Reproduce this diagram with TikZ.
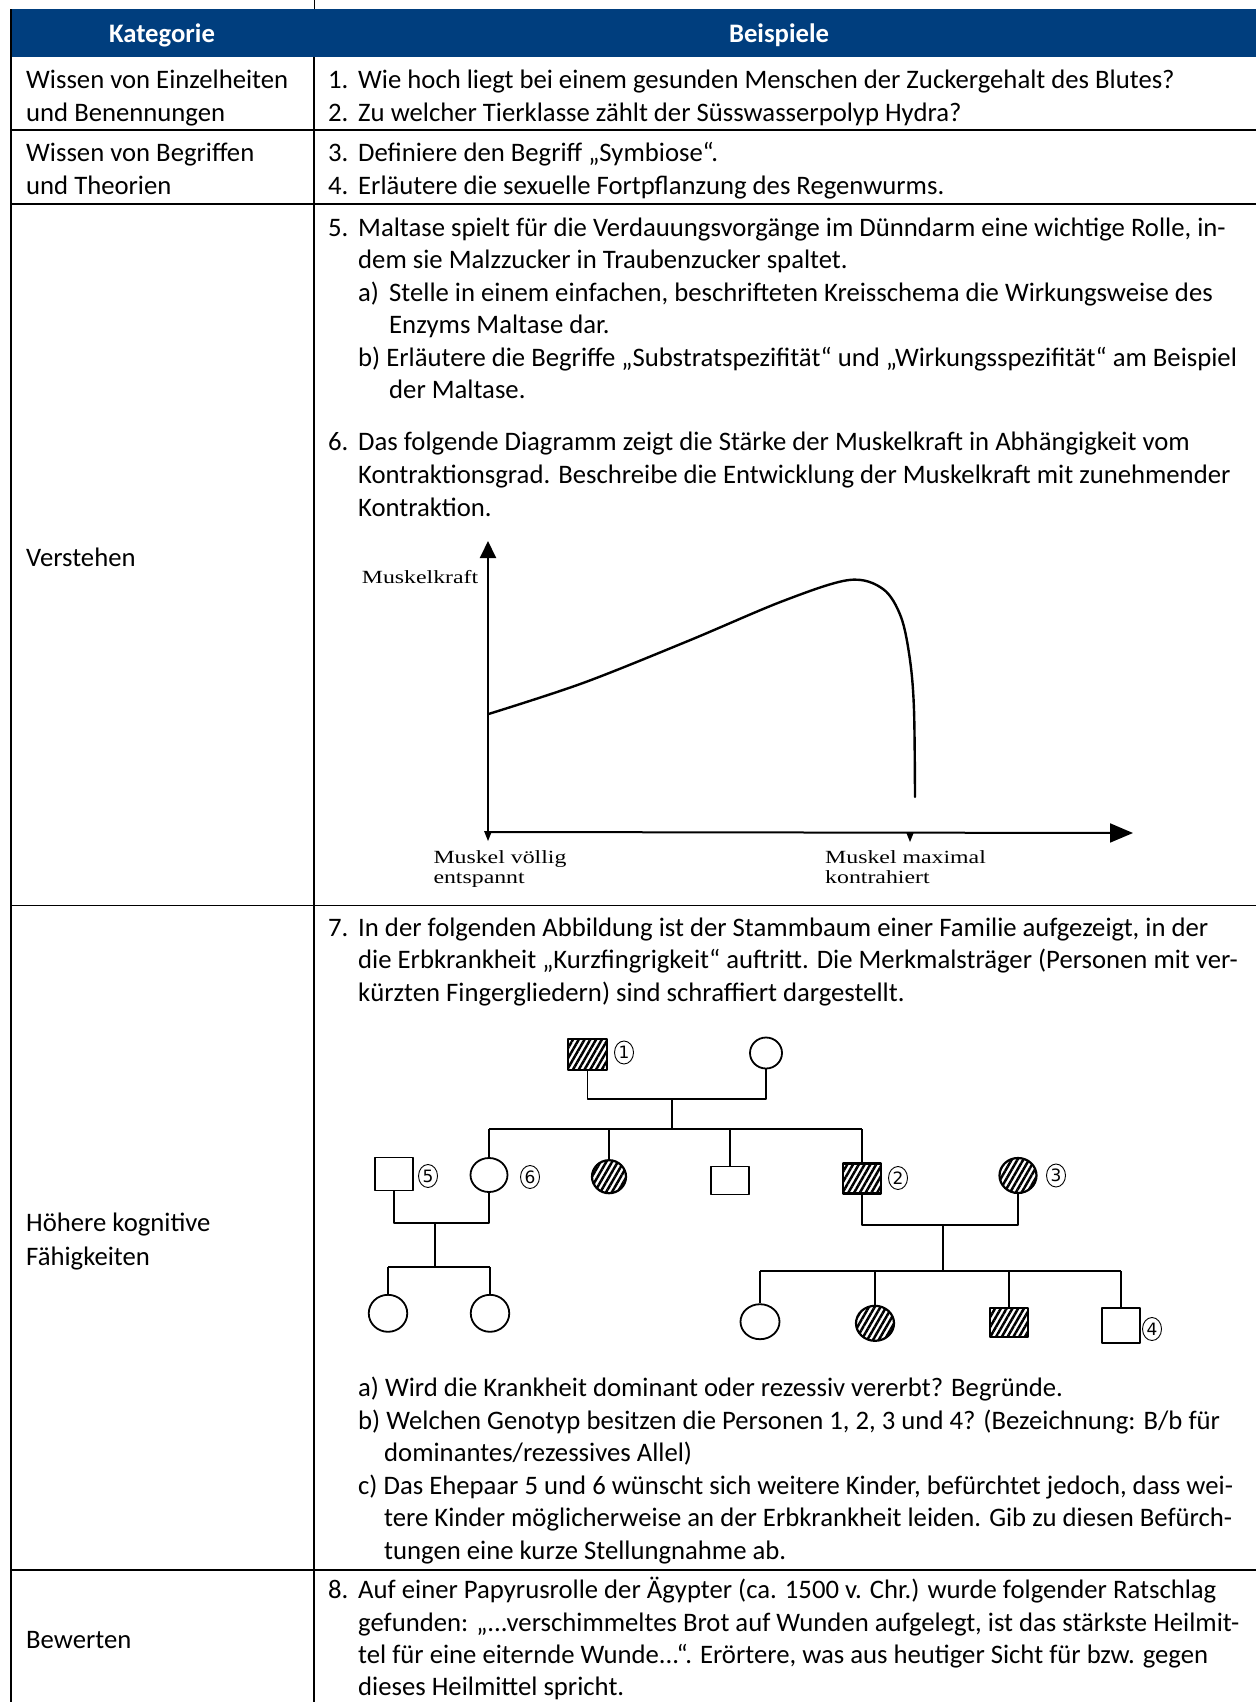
\documentclass[tikz,border=0pt]{standalone}
\usepackage{graphicx}
\usepackage{fontspec}
\setmainfont{Carlito}
\newfontfamily\graphfont{Liberation Serif}
\newfontfamily\handfont{DejaVu Sans}
\usetikzlibrary{arrows.meta,patterns.meta,shapes.geometric}
\definecolor{headblue}{RGB}{0,62,126}
\begin{document}
\begin{tikzpicture}[x=1pt,y=-1pt,line join=round,
  txt/.style={anchor=base west,inner sep=0pt,font=\fontsize{26.7}{32.6}\selectfont},
  hdr/.style={anchor=base,inner sep=0pt,text=white,font=\bfseries\fontsize{26.7}{32.6}\selectfont},
  gtxt/.style={anchor=base west,inner sep=0pt,font=\graphfont\fontsize{18.6}{20}\selectfont},
  tline/.style={line width=1.5pt},
  axisline/.style={line width=2pt},
  ind/.style={draw,line width=1.8pt,inner sep=0pt},
  aff/.style={pattern={Lines[angle=60,distance=5pt,line width=2.5pt]},line width=2.2pt},
  mal/.style={ind,rectangle},
  fem/.style={ind,ellipse},
  lab/.style={draw,ellipse,line width=0.9pt,inner sep=0pt,minimum width=19pt,minimum height=23pt,font=\handfont\fontsize{17}{17}\selectfont},
  pline/.style={line width=1.8pt}]
\useasboundingbox (0,0) rectangle (1256,1702);
\fill[white] (0,0) rectangle (1256,1702);
% ---------- table ----------
\fill[headblue] (11,9.3) rectangle (1256,57.3);
\node[hdr] (hk) at (162,42.5) {Kategorie};
\node[hdr] (hb) at (779,42.5) {Beispiele};
\draw[line width=0.6pt] (314,0) -- (314,9.3);
\draw[tline] (11,9.3) -- (11,1702);
\draw[tline] (314,57.3) -- (314,1702);
\draw[tline] (11,130) -- (1256,130);
\draw[tline] (11,204) -- (1256,204);
\draw[tline] (11,905.7) -- (1256,905.7);
\draw[tline] (11,1569.8) -- (1256,1569.8);
% row 1
\node[txt] (c1a) at (26,88.3) {Wissen von Einzelheiten};
\node[txt] (c1b) at (26,121) {und Benennungen};
\node[txt] (n1) at (328,88.3) {1.};
\node[txt] (q1) at (358,88.3) {Wie hoch liegt bei einem gesunden Menschen der Zuckergehalt des Blutes?};
\node[txt] (n2) at (328,121) {2.};
\node[txt] (q2) at (358,121) {Zu welcher Tierklasse zählt der Süsswasserpolyp Hydra?};
% row 2
\node[txt] (c2a) at (26,161.1) {Wissen von Begriffen};
\node[txt] (c2b) at (26,194.7) {und Theorien};
\node[txt] (n3) at (328,161.1) {3.};
\node[txt] (q3) at (358,161.1) {Definiere den Begriff „Symbiose“.};
\node[txt] (n4) at (328,194.7) {4.};
\node[txt] (q4) at (358,194.7) {Erläutere die sexuelle Fortpflanzung des Regenwurms.};
% row 3
\node[txt] (c3) at (26,566) {Verstehen};
\node[txt] (n5) at (328,236) {5.};
\node[txt] (q5a) at (358,236) {Maltase spielt für die Verdauungsvorgänge im Dünndarm eine wichtige Rolle, in-};
\node[txt] (q5b) at (358,268.6) {dem sie Malzzucker in Traubenzucker spaltet.};
\node[txt] (a5) at (358,301.1) {a)};
\node[txt] (q5c) at (389,301.1) {Stelle in einem einfachen, beschrifteten Kreisschema die Wirkungsweise des};
\node[txt] (q5d) at (389,333.7) {Enzyms Maltase dar.};
\node[txt] (q5e) at (358,366.3) {b) Erläutere die Begriffe „Substratspezifität“ und „Wirkungsspezifität“ am Beispiel};
\node[txt] (q5f) at (389,398.8) {der Maltase.};
\node[txt] (n6) at (328,450.9) {6.};
\node[txt] (q6a) at (358,450.9) {Das folgende Diagramm zeigt die Stärke der Muskelkraft in Abhängigkeit vom};
\node[txt] (q6b) at (358,483.5) {Kontraktionsgrad. Beschreibe die Entwicklung der Muskelkraft mit zunehmender};
\node[txt] (q6c) at (358,516.1) {Kontraktion.};
% graph
\coordinate (O) at (488,832);
\coordinate (ytop) at (488,541);
\coordinate (xend) at (1133,833);
\coordinate (xmax) at (910,833);
\draw[axisline,-{Triangle[length=17pt,width=16pt]}] (O) -- (ytop);
\draw[axisline,-{Triangle[length=23pt,width=19pt]}] (O) -- (xend);
\fill (O) ++(-4,-1) -- ++(8,0) -- ++(-4,10) -- cycle;
\fill (xmax) ++(-4,-1) -- ++(8,0) -- ++(-4,10) -- cycle;
\draw[line width=2.4pt,line cap=round] plot[smooth,tension=0.55] coordinates {(488.5,714) (583,683) (688,641) (783,601) (849,580) (883,589) (901,617) (910,660) (914,710) (915,797)};
\node[gtxt] (gy) at (361.7,583.3) {\scalebox{1.28}[1]{Muskelkraft}};
\node[gtxt] (gx1) at (433.3,863.3) {\scalebox{1.28}[1]{Muskel völlig}};
\node[gtxt] (gx2) at (433.3,883.3) {\scalebox{1.28}[1]{entspannt}};
\node[gtxt] (gx3) at (825,863.3) {\scalebox{1.28}[1]{Muskel maximal}};
\node[gtxt] (gx4) at (825,883.3) {\scalebox{1.28}[1]{kontrahiert}};
% row 4
\node[txt] (c4a) at (26,1231.5) {Höhere kognitive};
\node[txt] (c4b) at (26,1265) {Fähigkeiten};
\node[txt] (n7) at (328,936.1) {7.};
\node[txt] (q7a) at (358,936.1) {In der folgenden Abbildung ist der Stammbaum einer Familie aufgezeigt, in der};
\node[txt] (q7b) at (358,968.7) {die Erbkrankheit „Kurzfingrigkeit“ auftritt. Die Merkmalsträger (Personen mit ver-};
\node[txt] (q7c) at (358,1001.3) {kürzten Fingergliedern) sind schraffiert dargestellt.};
\node[txt] (q7d) at (358,1396.5) {a) Wird die Krankheit dominant oder rezessiv vererbt? Begründe.};
\node[txt] (q7e) at (358,1429.1) {b) Welchen Genotyp besitzen die Personen 1, 2, 3 und 4? (Bezeichnung: B/b für};
\node[txt] (q7f) at (384,1461.7) {dominantes/rezessives Allel)};
\node[txt] (q7g) at (358,1494.3) {c) Das Ehepaar 5 und 6 wünscht sich weitere Kinder, befürchtet jedoch, dass wei-};
\node[txt] (q7h) at (384,1526.9) {tere Kinder möglicherweise an der Erbkrankheit leiden. Gib zu diesen Befürch-};
\node[txt] (q7i) at (384,1559.5) {tungen eine kurze Stellungnahme ab.};
% pedigree
\node[mal,aff,minimum width=38.5pt,minimum height=30.5pt] (m1) at (587.5,1054.5) {};
\node[lab] (l1) at (624,1052.5) {1};
\node[fem,minimum width=32pt,minimum height=31pt] (f1) at (766,1053) {};
\node[mal,minimum width=38.5pt,minimum height=33pt] (m5) at (394,1174) {};
\node[lab] (l5) at (428,1176) {5};
\node[fem,minimum width=37pt,minimum height=34pt] (f6) at (489,1175) {};
\node[lab] (l6) at (530,1177) {6};
\node[fem,aff,minimum width=34pt,minimum height=33pt] (d2) at (609,1176.7) {};
\node[mal,minimum width=37.5pt,minimum height=28pt] (s3) at (730,1180.5) {};
\node[mal,aff,minimum width=38pt,minimum height=30pt] (m2) at (862,1178.5) {};
\node[lab] (l2) at (898,1178) {2};
\node[fem,aff,minimum width=37pt,minimum height=35pt] (f3) at (1018,1175.5) {};
\node[lab] (l3) at (1056,1175.5) {3};
\node[fem,minimum width=38.5pt,minimum height=37pt] (g1) at (388,1313.3) {};
\node[fem,minimum width=38.5pt,minimum height=37pt] (g2) at (490,1313.3) {};
\node[fem,minimum width=39pt,minimum height=35pt] (k1) at (760,1321.7) {};
\node[fem,aff,minimum width=38pt,minimum height=35pt] (k2) at (875,1323.3) {};
\node[mal,aff,minimum width=38pt,minimum height=29pt] (k3) at (1009.3,1322.5) {};
\node[mal,minimum width=38pt,minimum height=35pt] (k4) at (1121,1325.5) {};
\node[lab] (l4) at (1152,1329) {4};
\coordinate (j1) at (672,1099);
\coordinate (s1) at (672,1129);
\coordinate (j56) at (435,1223);
\coordinate (s56) at (435,1267);
\coordinate (j23) at (942.6,1225);
\coordinate (s23) at (942.6,1271);
\draw[pline] (m1.south) |- (j1) -| (f1.south);
\draw[pline] (j1) -- (s1);
\draw[pline] (f6.north |- s1) -- (m2.north |- s1);
\foreach \c in {f6,d2,s3,m2} \draw[pline] (\c.north |- s1) -- (\c.north);
\draw[pline] (m5.south) |- (j56) -| (f6.south);
\draw[pline] (j56) -- (s56);
\draw[pline] (g1.north |- s56) -- (g2.north |- s56);
\foreach \c in {g1,g2} \draw[pline] (\c.north |- s56) -- (\c.north);
\draw[pline] (m2.south) |- (j23) -| (f3.south);
\draw[pline] (j23) -- (s23);
\draw[pline] (k1.north |- s23) -- (k4.north |- s23);
\foreach \c in {k1,k2,k3,k4} \draw[pline] (\c.north |- s23) -- (\c.north);
% row 5
\node[txt] (c5) at (26,1648.4) {Bewerten};
\node[txt] (n8) at (328,1598.7) {8.};
\node[txt] (q8a) at (358,1598.7) {Auf einer Papyrusrolle der Ägypter (ca. 1500 v. Chr.) wurde folgender Ratschlag};
\node[txt] (q8b) at (358,1631.3) {gefunden: „...verschimmeltes Brot auf Wunden aufgelegt, ist das stärkste Heilmit-};
\node[txt] (q8c) at (358,1663.9) {tel für eine eiternde Wunde...“. Erörtere, was aus heutiger Sicht für bzw. gegen};
\node[txt] (q8d) at (358,1695.5) {dieses Heilmittel spricht.};
\end{tikzpicture}
\end{document}
